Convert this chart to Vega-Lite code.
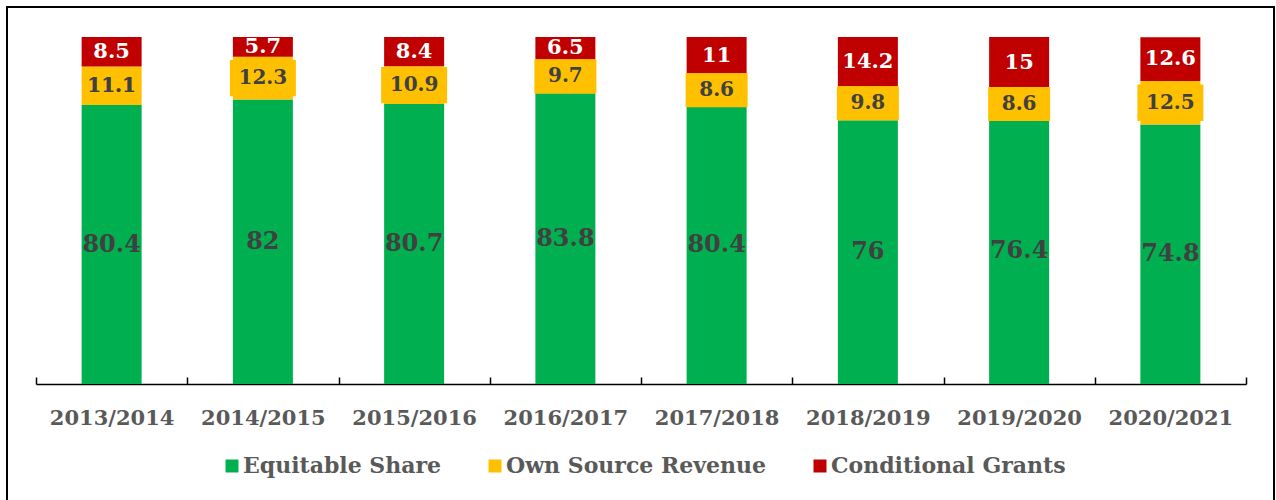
{
  "$schema": "https://vega.github.io/schema/vega-lite/v6.json",
  "autosize": {"type": "none"},
  "padding": {"left": 7, "top": 7, "right": 2, "bottom": 0},
  "width": 1267,
  "height": 494,
  "background": "white",
  "config": {
    "view": {"stroke": "#000000", "strokeWidth": 2},
    "font": "DejaVu Serif"
  },
  "data": {
    "values": [
      {"y": "2013/2014", "s": "Equitable Share", "k": 1, "v": 80.4},
      {"y": "2013/2014", "s": "Own Source Revenue", "k": 2, "v": 11.1},
      {"y": "2013/2014", "s": "Conditional Grants", "k": 3, "v": 8.5},
      {"y": "2014/2015", "s": "Equitable Share", "k": 1, "v": 82},
      {"y": "2014/2015", "s": "Own Source Revenue", "k": 2, "v": 12.3},
      {"y": "2014/2015", "s": "Conditional Grants", "k": 3, "v": 5.7},
      {"y": "2015/2016", "s": "Equitable Share", "k": 1, "v": 80.7},
      {"y": "2015/2016", "s": "Own Source Revenue", "k": 2, "v": 10.9},
      {"y": "2015/2016", "s": "Conditional Grants", "k": 3, "v": 8.4},
      {"y": "2016/2017", "s": "Equitable Share", "k": 1, "v": 83.8},
      {"y": "2016/2017", "s": "Own Source Revenue", "k": 2, "v": 9.7},
      {"y": "2016/2017", "s": "Conditional Grants", "k": 3, "v": 6.5},
      {"y": "2017/2018", "s": "Equitable Share", "k": 1, "v": 80.4},
      {"y": "2017/2018", "s": "Own Source Revenue", "k": 2, "v": 8.6},
      {"y": "2017/2018", "s": "Conditional Grants", "k": 3, "v": 11},
      {"y": "2018/2019", "s": "Equitable Share", "k": 1, "v": 76},
      {"y": "2018/2019", "s": "Own Source Revenue", "k": 2, "v": 9.8},
      {"y": "2018/2019", "s": "Conditional Grants", "k": 3, "v": 14.2},
      {"y": "2019/2020", "s": "Equitable Share", "k": 1, "v": 76.4},
      {"y": "2019/2020", "s": "Own Source Revenue", "k": 2, "v": 8.6},
      {"y": "2019/2020", "s": "Conditional Grants", "k": 3, "v": 15},
      {"y": "2020/2021", "s": "Equitable Share", "k": 1, "v": 74.8},
      {"y": "2020/2021", "s": "Own Source Revenue", "k": 2, "v": 12.5},
      {"y": "2020/2021", "s": "Conditional Grants", "k": 3, "v": 12.6}
    ]
  },
  "encoding": {
    "x": {
      "field": "y",
      "type": "nominal",
      "sort": null,
      "scale": {"range": [29, 1239], "paddingInner": 0, "paddingOuter": 0},
      "axis": {
        "title": null,
        "labelAngle": 0,
        "labelFont": "DejaVu Serif",
        "labelFontSize": 21,
        "labelFontWeight": "bold",
        "labelColor": "#595959",
        "labelPadding": 30,
        "labelBaseline": "top",
        "labelLimit": 300,
        "domainColor": "#000000",
        "domainWidth": 1.5,
        "tickColor": "#000000",
        "tickWidth": 1.5,
        "tickSize": -7,
        "tickBand": "extent",
        "offset": -117,
        "grid": false
      }
    },
    "y": {
      "field": "v",
      "type": "quantitative",
      "stack": "zero",
      "scale": {"domain": [0, 100], "range": [377, 30], "nice": false, "zero": true},
      "axis": null
    },
    "order": {"field": "k", "type": "quantitative"}
  },
  "layer": [
    {
      "mark": {"type": "bar", "width": 60},
      "encoding": {
        "color": {
          "field": "s",
          "type": "nominal",
          "scale": {
            "domain": ["Equitable Share", "Own Source Revenue", "Conditional Grants"],
            "range": ["#00B050", "#FFC000", "#C00000"]
          },
          "legend": {
            "title": null,
            "orient": "none",
            "legendX": 214,
            "legendY": 448,
            "direction": "horizontal",
            "padding": 0,
            "labelFont": "DejaVu Serif",
            "labelFontSize": 22,
            "labelFontWeight": "bold",
            "labelColor": "#595959",
            "labelLimit": 400,
            "labelOffset": 0,
            "columnPadding": 42,
            "symbolType": "square",
            "symbolSize": 169,
            "symbolStrokeWidth": 0
          }
        }
      }
    },
    {
      "mark": {"type": "text", "font": "DejaVu Serif", "fontWeight": "bold", "baseline": "middle", "align": "center"},
      "encoding": {
        "y": {"field": "v", "type": "quantitative", "stack": "zero", "bandPosition": 0.5},
        "detail": {"field": "s", "type": "nominal"},
        "text": {"field": "v", "type": "nominal"},
        "color": {
          "condition": {"test": "datum.s === 'Conditional Grants'", "value": "#FFFFFF"},
          "value": "#404040"
        },
        "size": {
          "condition": [
            {"test": "datum.s === 'Equitable Share'", "value": 24},
            {"test": "datum.s === 'Conditional Grants'", "value": 21}
          ],
          "value": 20
        }
      }
    },
    {
      "mark": {"type": "point", "filled": true, "shape": "M-1,-0.55L1,-0.55L1,0.55L-1,0.55Z", "strokeWidth": 0},
      "encoding": {
        "y": {"field": "v", "type": "quantitative", "stack": "zero", "bandPosition": 0.5},
        "detail": {"field": "s", "type": "nominal"},
        "fill": {
          "condition": {"test": "datum.s === 'Own Source Revenue'", "value": "#FFC000"},
          "value": "transparent"
        },
        "opacity": {
          "condition": {"test": "datum.s === 'Own Source Revenue' && datum.y !== '2013/2014'", "value": 1},
          "value": 0
        },
        "size": {
          "condition": {"test": "datum.v >= 10", "value": 4356},
          "value": 3844
        }
      }
    },
    {
      "mark": {"type": "text", "font": "DejaVu Serif", "fontWeight": "bold", "baseline": "middle", "align": "center", "size": 20, "color": "#404040"},
      "encoding": {
        "y": {"field": "v", "type": "quantitative", "stack": "zero", "bandPosition": 0.5},
        "detail": {"field": "s", "type": "nominal"},
        "text": {"field": "v", "type": "nominal"},
        "opacity": {
          "condition": {"test": "datum.s === 'Own Source Revenue'", "value": 1},
          "value": 0
        }
      }
    }
  ]
}
